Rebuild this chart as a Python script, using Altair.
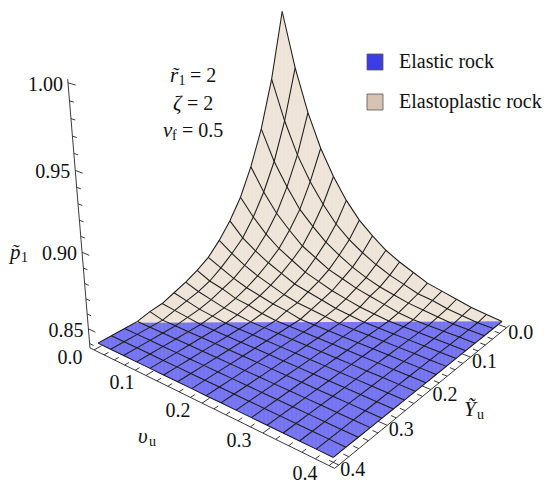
import numpy as np
import pandas as pd
import altair as alt

# ---------------- data ----------------
# mesh positions of v_u and Y_u (16 cells over 0 .. 0.4)
MESH = [0.0, 0.025, 0.05, 0.075, 0.1, 0.125, 0.15, 0.175, 0.2, 0.225,
        0.25, 0.275, 0.3, 0.325, 0.35, 0.375, 0.4]
# p1 at the mesh nodes: one row per v_u value, columns follow Y_u
Z_GRID = [
    [1.003, 0.961, 0.930, 0.907, 0.889, 0.876, 0.866, 0.858, 0.853, 0.849, 0.846, 0.843, 0.842, 0.840, 0.840, 0.840, 0.840],
    [0.968, 0.935, 0.910, 0.892, 0.878, 0.867, 0.860, 0.854, 0.849, 0.846, 0.844, 0.842, 0.840, 0.840, 0.840, 0.840, 0.840],
    [0.940, 0.914, 0.895, 0.880, 0.869, 0.861, 0.855, 0.850, 0.847, 0.844, 0.842, 0.841, 0.840, 0.840, 0.840, 0.840, 0.840],
    [0.918, 0.898, 0.882, 0.871, 0.862, 0.856, 0.851, 0.847, 0.844, 0.842, 0.841, 0.840, 0.840, 0.840, 0.840, 0.840, 0.840],
    [0.901, 0.885, 0.873, 0.863, 0.857, 0.852, 0.848, 0.845, 0.843, 0.841, 0.840, 0.840, 0.840, 0.840, 0.840, 0.840, 0.840],
    [0.887, 0.874, 0.865, 0.858, 0.852, 0.848, 0.845, 0.843, 0.841, 0.840, 0.840, 0.840, 0.840, 0.840, 0.840, 0.840, 0.840],
    [0.876, 0.866, 0.859, 0.853, 0.849, 0.846, 0.843, 0.842, 0.840, 0.840, 0.840, 0.840, 0.840, 0.840, 0.840, 0.840, 0.840],
    [0.868, 0.860, 0.854, 0.850, 0.846, 0.844, 0.842, 0.840, 0.840, 0.840, 0.840, 0.840, 0.840, 0.840, 0.840, 0.840, 0.840],
    [0.861, 0.855, 0.850, 0.847, 0.844, 0.842, 0.841, 0.840, 0.840, 0.840, 0.840, 0.840, 0.840, 0.840, 0.840, 0.840, 0.840],
    [0.856, 0.851, 0.847, 0.845, 0.842, 0.841, 0.840, 0.840, 0.840, 0.840, 0.840, 0.840, 0.840, 0.840, 0.840, 0.840, 0.840],
    [0.852, 0.848, 0.845, 0.843, 0.841, 0.840, 0.840, 0.840, 0.840, 0.840, 0.840, 0.840, 0.840, 0.840, 0.840, 0.840, 0.840],
    [0.848, 0.845, 0.843, 0.841, 0.840, 0.840, 0.840, 0.840, 0.840, 0.840, 0.840, 0.840, 0.840, 0.840, 0.840, 0.840, 0.840],
    [0.846, 0.844, 0.842, 0.840, 0.840, 0.840, 0.840, 0.840, 0.840, 0.840, 0.840, 0.840, 0.840, 0.840, 0.840, 0.840, 0.840],
    [0.844, 0.842, 0.841, 0.840, 0.840, 0.840, 0.840, 0.840, 0.840, 0.840, 0.840, 0.840, 0.840, 0.840, 0.840, 0.840, 0.840],
    [0.842, 0.841, 0.840, 0.840, 0.840, 0.840, 0.840, 0.840, 0.840, 0.840, 0.840, 0.840, 0.840, 0.840, 0.840, 0.840, 0.840],
    [0.841, 0.840, 0.840, 0.840, 0.840, 0.840, 0.840, 0.840, 0.840, 0.840, 0.840, 0.840, 0.840, 0.840, 0.840, 0.840, 0.840],
    [0.840, 0.840, 0.840, 0.840, 0.840, 0.840, 0.840, 0.840, 0.840, 0.840, 0.840, 0.840, 0.840, 0.840, 0.840, 0.840, 0.840],
]
Z_ELASTIC = 0.84          # plateau of the elastic rock
EDGE_Y_AT_U0 = 0.33       # elastic / elastoplastic boundary on the v_u = 0 edge
EDGE_U_AT_Y0 = 0.40       # boundary on the Y_u = 0 edge

U_TICKS = [0.0, 0.1, 0.2, 0.3, 0.4]
U_TICK_LABELS = ["0.0", "0.1", "0.2", "0.3", "0.4"]
Y_TICKS = [0.0, 0.1, 0.2, 0.3, 0.4]
Y_TICK_LABELS = ["0.0", "0.1", "0.2", "0.3", "0.4"]
Z_TICKS = [0.85, 0.90, 0.95, 1.00]
Z_TICK_LABELS = ["0.85", "0.90", "0.95", "1.00"]
UY_MINOR = [0.02, 0.04, 0.06, 0.08, 0.12, 0.14, 0.16, 0.18,
            0.22, 0.24, 0.26, 0.28, 0.32, 0.34, 0.36, 0.38]
Z_MINOR = [0.84, 0.86, 0.87, 0.88, 0.89, 0.91, 0.92, 0.93, 0.94,
           0.96, 0.97, 0.98, 0.99]
ROCKS = ["Elastic rock", "Elastoplastic rock"]

# ---------------- view (perspective camera) ----------------
PP = (280.0, 211.0)
FOC = 1123.0
EU = np.array([0.777, 0.265, -0.572])
EY = np.array([-0.630, 0.326, -0.705])
EZ = np.array([0.0, -0.9075, -0.420])
T0 = np.array([0.00323, 0.0502, 1.817])
ZREF = 0.84
SZ = 2.33
PAD = 0.008
Z_LO, Z_HI = 0.837, 1.002


def proj(u, y, z):
    u = np.asarray(u, float); y = np.asarray(y, float); z = np.asarray(z, float)
    h = (z - ZREF) * SZ
    c = [T0[k] + u * EU[k] + y * EY[k] + h * EZ[k] for k in range(3)]
    return PP[0] + FOC * c[0] / c[2], PP[1] + FOC * c[1] / c[2]


G = np.array(Z_GRID)
M = np.array(MESH)
n = len(MESH)

# mesh lines (through the grid nodes)
rows = []
lid = 0
for k in range(n):
    for uu, yy, zz in ((np.full(n, M[k]), M, G[k, :]), (M, np.full(n, M[k]), G[:, k])):
        px, py = proj(uu, yy, zz)
        for i in range(n):
            rows.append((lid, i, float(px[i]), float(py[i])))
        lid += 1
mesh_df = pd.DataFrame(rows, columns=["line", "i", "x", "y"])


def band(top_x, top_y, bot_x, bot_y, step=0.8):
    tx = np.asarray(top_x, float); ty = np.asarray(top_y, float)
    bx = np.asarray(bot_x, float); by = np.asarray(bot_y, float)
    o1 = np.argsort(tx); o2 = np.argsort(bx)
    xs = np.arange(bx.min(), bx.max() + 1e-9, step)
    y1 = np.interp(xs, tx[o1], ty[o1])
    y2 = np.interp(xs, bx[o2], by[o2])
    return pd.DataFrame({"x": xs, "ytop": y1, "ybot": y2})


# outline of the surface: front edges below, the two back edges above
b1x, b1y = proj(M, M[-1], G[:, -1])
b2x, b2y = proj(M[-1], M[::-1], G[-1, ::-1])
bot_x = np.concatenate([b1x, b2x]); bot_y = np.concatenate([b1y, b2y])
a1x, a1y = proj(M[0], M[::-1], G[0, ::-1])
a2x, a2y = proj(M, M[0], G[:, 0])
tan_rules = band(np.concatenate([a1x, a2x]), np.concatenate([a1y, a2y]), bot_x, bot_y)
# elastic region (flat part)
c1x, c1y = proj([0.0, 0.0], [M[-1], EDGE_Y_AT_U0], Z_ELASTIC)
c2x, c2y = proj([0.0, EDGE_U_AT_Y0], [EDGE_Y_AT_U0, 0.0], Z_ELASTIC)
blue_rules = band(np.concatenate([c1x, c2x]), np.concatenate([c1y, c2y]), bot_x, bot_y)

# axes
seg = []
def add_seg(p0, p1):
    x0, y0 = proj(*p0); x1, y1 = proj(*p1)
    seg.append((float(x0), float(y0), float(x1), float(y1)))

U_EDGE = 0.4 + PAD
add_seg((-PAD, U_EDGE, Z_LO), (-PAD, U_EDGE, Z_HI))
add_seg((-PAD, U_EDGE, Z_LO), (U_EDGE, U_EDGE, Z_LO))
add_seg((U_EDGE, U_EDGE, Z_LO), (U_EDGE, -PAD, Z_LO))
for v in U_TICKS:
    add_seg((v, U_EDGE, Z_LO), (v, U_EDGE - 0.014, Z_LO))
for v in UY_MINOR:
    add_seg((v, U_EDGE, Z_LO), (v, U_EDGE - 0.008, Z_LO))
for v in Y_TICKS:
    add_seg((U_EDGE, v, Z_LO), (U_EDGE - 0.014, v, Z_LO))
for v in UY_MINOR:
    add_seg((U_EDGE, v, Z_LO), (U_EDGE - 0.008, v, Z_LO))
for v in Z_TICKS:
    add_seg((-PAD, U_EDGE, v), (-PAD + 0.014, U_EDGE, v))
for v in Z_MINOR:
    add_seg((-PAD, U_EDGE, v), (-PAD + 0.008, U_EDGE, v))
seg_df = pd.DataFrame(seg, columns=["x", "y", "xe", "ye"])

# tick labels
lab = []
for v, s in zip(U_TICKS, U_TICK_LABELS):
    x, y = proj(v, U_EDGE, Z_LO); lab.append((float(x) - 24, float(y) + 8, s))
for v, s in zip(Y_TICKS, Y_TICK_LABELS):
    x, y = proj(U_EDGE, v, Z_LO); lab.append((float(x) + 14, float(y) + 5, s))
ulab_df = pd.DataFrame(lab, columns=["x", "y", "t"])
zl = []
for v, s in zip(Z_TICKS, Z_TICK_LABELS):
    x, y = proj(-PAD, U_EDGE, v); zl.append((float(x) - 5, float(y) + 2, s))
zlab_df = pd.DataFrame(zl, columns=["x", "y", "t"])

# math text pieces (page layout)
ital = pd.DataFrame([
    (170, 76, "r\u0303"), (173, 104, "\u03b6"), (163, 131, "\u03bd"),
    (10, 253, "p\u0303"), (138, 437, "\u03c5"), (464, 410, "\u1ef8"),
], columns=["x", "y", "t"])
subs = pd.DataFrame([
    (178.5, 81, "1"), (172, 136, "f"), (21, 258, "1"), (149, 442, "u"), (477, 415, "u"),
], columns=["x", "y", "t"])
plain = pd.DataFrame([
    (190, 76, "= 2"), (187, 104, "= 2"), (182, 131, "= 0.5"),
], columns=["x", "y", "t"])

legend_df = pd.DataFrame({"rock": ROCKS, "x": [300.0, 300.0], "y": [300.0, 300.0]})

# ---------------- chart ----------------
XS = alt.Scale(domain=[8, 542], nice=False, zero=False)
YS = alt.Scale(domain=[8, 486], nice=False, zero=False, reverse=True)
X = alt.X("x:Q", scale=XS, axis=None)
SERIF = "Liberation Serif"


def YY(f="y"):
    return alt.Y(f + ":Q", scale=YS, axis=None)


tan_r = alt.Chart(tan_rules).mark_rule(color="#EEE3D8", strokeWidth=1.3).encode(
    x=X, y=YY("ytop"), y2=alt.Y2("ybot:Q"))
blue_r = alt.Chart(blue_rules).mark_rule(color="#7474F2", strokeWidth=1.3).encode(
    x=X, y=YY("ytop"), y2=alt.Y2("ybot:Q"))
mesh = alt.Chart(mesh_df).mark_line(color="#1c1c1c", strokeWidth=1.05).encode(
    x=X, y=YY(), detail="line:N", order="i:Q")
axes = alt.Chart(seg_df).mark_rule(color="#3a3a3a", strokeWidth=1.0).encode(
    x=X, y=YY(), x2="xe:Q", y2="ye:Q")
ulab = alt.Chart(ulab_df).mark_text(font=SERIF, fontSize=20, baseline="middle", align="center", color="#111").encode(
    x=X, y=YY(), text="t:N")
zlab = alt.Chart(zlab_df).mark_text(font=SERIF, fontSize=20, baseline="middle", align="right", color="#111").encode(
    x=X, y=YY(), text="t:N")
it = alt.Chart(ital).mark_text(font=SERIF, fontSize=21, fontStyle="italic", baseline="middle", align="left", color="#111").encode(
    x=X, y=YY(), text="t:N")
sb = alt.Chart(subs).mark_text(font=SERIF, fontSize=14, baseline="middle", align="left", color="#111").encode(
    x=X, y=YY(), text="t:N")
pl = alt.Chart(plain).mark_text(font=SERIF, fontSize=20, baseline="middle", align="left", color="#111").encode(
    x=X, y=YY(), text="t:N")
leg = alt.Chart(legend_df).mark_square(opacity=0, size=10).encode(
    x=X, y=YY(),
    color=alt.Color("rock:N", scale=alt.Scale(domain=ROCKS, range=["#3D3DE6", "#D8C3B3"]),
                    legend=alt.Legend(orient="none", legendX=357, legendY=44, title=None,
                                      symbolType="square", symbolSize=256, symbolOpacity=1,
                                      symbolStrokeColor="#555555", symbolStrokeWidth=0.8,
                                      labelFont=SERIF, labelFontSize=20, labelColor="#111",
                                      labelOffset=14, rowPadding=20, padding=0, labelLimit=400)))

chart = alt.layer(tan_r, blue_r, mesh, axes, ulab, zlab, it, sb, pl, leg).properties(
    width=534, height=478, padding=0, autosize=alt.AutoSizeParams(type="none")
).configure_view(stroke=None)

chart.save("out.html", embed_options={"renderer": "svg", "actions": False})
